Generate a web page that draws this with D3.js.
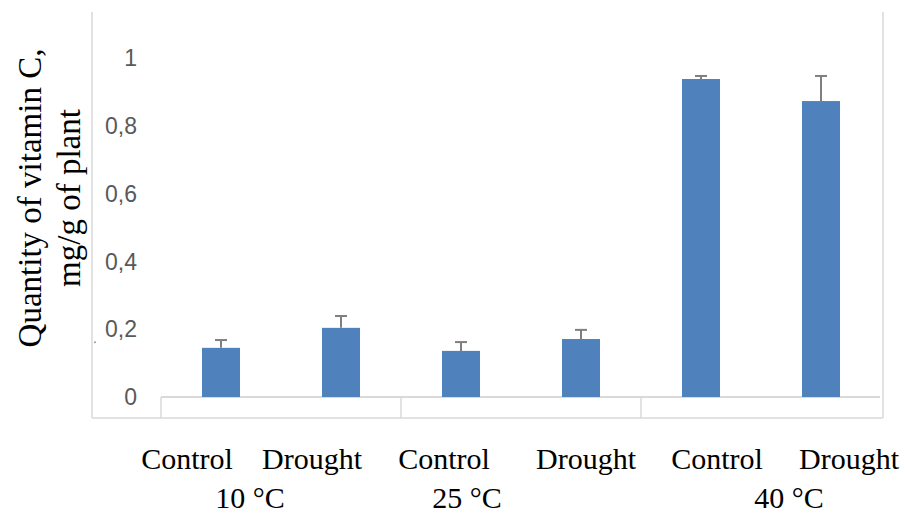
<!DOCTYPE html>
<html>
<head>
<meta charset="utf-8">
<script src="https://cdn.jsdelivr.net/npm/d3@7"></script>
<style>
  html, body { margin: 0; padding: 0; background: #fff; }
</style>
</head>
<body>
<svg id="chart" width="905" height="515"></svg>
<script>
// data
var temperatures = ['10 °C', '25 °C', '40 °C'];
var treatments = ['Control', 'Drought'];
var controlValues = [0.145, 0.136, 0.938];
var droughtValues = [0.204, 0.171, 0.873];
var controlErrors = [0.023, 0.026, 0.009];
var droughtErrors = [0.035, 0.027, 0.074];
var yTicks = [0, 0.2, 0.4, 0.6, 0.8, 1];

// the category labels in the source are not centred on their bars
var barLabelNudge = [-34, -29, -17, 5, 16, 28];
var groupLabelNudge = [-31, -54, 28];

var svg = d3.select('#chart');

var bars = [];
temperatures.forEach(function (t, i) {
  bars.push({ key: t + '|Control', name: 'Control', v: controlValues[i], e: controlErrors[i] });
  bars.push({ key: t + '|Drought', name: 'Drought', v: droughtValues[i], e: droughtErrors[i] });
});

var x = d3.scaleBand()
  .domain(bars.map(function (d) { return d.key; }))
  .range([161, 881])
  .paddingInner(0.683)
  .paddingOuter(0.3415);

var xGroup = d3.scaleBand()
  .domain(temperatures)
  .range([161, 881]);

var y = d3.scaleLinear().domain([0, 1]).range([397, 58]);

var frame = '#d9d9d9';

// outer frame (left, right, bottom)
svg.append('line').attr('x1', 92).attr('x2', 92).attr('y1', 12).attr('y2', 418)
  .attr('stroke', frame).attr('stroke-width', 1.5);
svg.append('line').attr('x1', 883).attr('x2', 883).attr('y1', 12).attr('y2', 418)
  .attr('stroke', frame).attr('stroke-width', 1.5);
svg.append('line').attr('x1', 92).attr('x2', 883).attr('y1', 418).attr('y2', 418)
  .attr('stroke', frame).attr('stroke-width', 1.5);

// x axis baseline and group separators
svg.append('line').attr('x1', 161).attr('x2', 880).attr('y1', y(0)).attr('y2', y(0))
  .attr('stroke', frame).attr('stroke-width', 2);
svg.selectAll('.sep')
  .data(temperatures)
  .enter()
  .append('line')
  .attr('x1', function (d) { return xGroup(d); })
  .attr('x2', function (d) { return xGroup(d); })
  .attr('y1', y(0))
  .attr('y2', 418)
  .attr('stroke', frame)
  .attr('stroke-width', 1.5);

// y tick labels
svg.selectAll('.ytick')
  .data(yTicks)
  .enter()
  .append('text')
  .attr('x', 137)
  .attr('y', function (d) { return y(d); })
  .attr('dy', '0.36em')
  .attr('text-anchor', 'end')
  .style('font-family', 'Liberation Sans, Arial, sans-serif')
  .style('font-size', '23px')
  .style('fill', '#595959')
  .text(function (d) { return String(d).replace('.', ','); });

// small stray dot next to 0,2
svg.append('circle').attr('cx', 95).attr('cy', y(0.2) + 13).attr('r', 1)
  .attr('fill', '#999');

// bars
svg.selectAll('.bar')
  .data(bars)
  .enter()
  .append('rect')
  .attr('x', function (d) { return x(d.key); })
  .attr('y', function (d) { return y(d.v); })
  .attr('width', x.bandwidth())
  .attr('height', function (d) { return y(0) - y(d.v); })
  .attr('fill', '#4f81bd');

// error bars (upper only)
var err = svg.append('g').attr('stroke', '#7f7f7f').attr('stroke-width', 2);
err.selectAll('.ev')
  .data(bars)
  .enter()
  .append('line')
  .attr('x1', function (d) { return x(d.key) + x.bandwidth() / 2; })
  .attr('x2', function (d) { return x(d.key) + x.bandwidth() / 2; })
  .attr('y1', function (d) { return y(d.v); })
  .attr('y2', function (d) { return y(d.v + d.e); });
err.selectAll('.ec')
  .data(bars)
  .enter()
  .append('line')
  .attr('x1', function (d) { return x(d.key) + x.bandwidth() / 2 - 6; })
  .attr('x2', function (d) { return x(d.key) + x.bandwidth() / 2 + 6; })
  .attr('y1', function (d) { return y(d.v + d.e); })
  .attr('y2', function (d) { return y(d.v + d.e); });

// category labels
svg.selectAll('.blabel')
  .data(bars)
  .enter()
  .append('text')
  .attr('x', function (d, i) { return x(d.key) + x.bandwidth() / 2 + barLabelNudge[i]; })
  .attr('y', 469)
  .attr('text-anchor', 'middle')
  .style('font-family', 'Liberation Serif, Times New Roman, serif')
  .style('font-size', '30px')
  .style('fill', '#000')
  .text(function (d) { return d.name; });

svg.selectAll('.glabel')
  .data(temperatures)
  .enter()
  .append('text')
  .attr('x', function (d, i) { return xGroup(d) + xGroup.bandwidth() / 2 + groupLabelNudge[i]; })
  .attr('y', 508)
  .attr('text-anchor', 'middle')
  .style('font-family', 'Liberation Serif, Times New Roman, serif')
  .style('font-size', '30px')
  .style('fill', '#000')
  .text(function (d) { return d; });

// y axis title, two lines
var title = svg.append('text')
  .attr('transform', 'translate(0,198)rotate(-90)')
  .attr('text-anchor', 'middle')
  .style('font-family', 'Liberation Serif, Times New Roman, serif')
  .style('font-size', '33px')
  .style('fill', '#000');
title.append('tspan').attr('x', 0).attr('y', 41).text('Quantity of vitamin C,');
title.append('tspan').attr('x', 0).attr('y', 80).text('mg/g of plant');
</script>
</body>
</html>
